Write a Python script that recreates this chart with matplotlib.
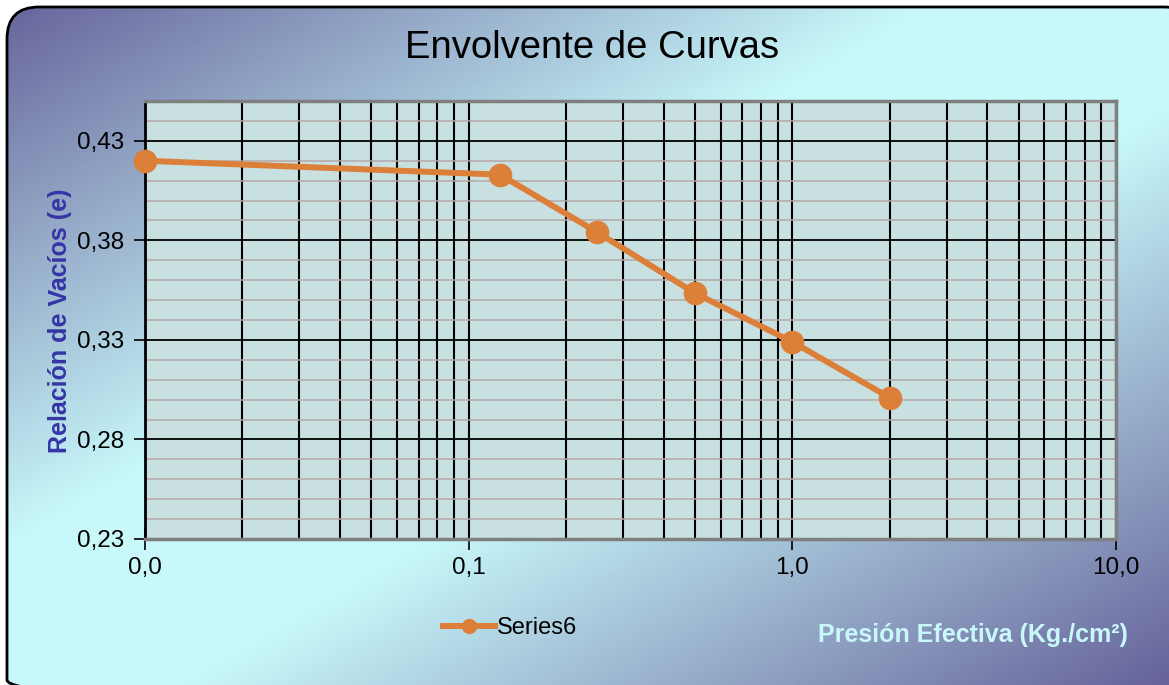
import numpy as np
import matplotlib
matplotlib.use("Agg")
import matplotlib.pyplot as plt
from matplotlib.colors import LinearSegmentedColormap
from matplotlib.patches import FancyBboxPatch
from matplotlib.lines import Line2D
from matplotlib.ticker import FixedLocator, NullFormatter

plt.rcParams['font.family'] = ['Liberation Sans', 'DejaVu Sans']

# ---- data ----
pressure = [0.01, 0.125, 0.25, 0.5, 1.0, 2.0]
void_ratio = [0.420, 0.413, 0.384, 0.3535, 0.329, 0.301]
series_name = "Series6"
y_ticks = [0.23, 0.28, 0.33, 0.38, 0.43]
y_tick_labels = ["0,23", "0,28", "0,33", "0,38", "0,43"]
x_ticks = [0.01, 0.1, 1.0, 10.0]
x_tick_labels = ["0,0", "0,1", "1,0", "10,0"]
title = "Envolvente de Curvas"
x_label = "Presión Efectiva (Kg./cm²)"
y_label = "Relación de Vacíos (e)"

W, H = 1169, 685
fig = plt.figure(figsize=(W / 100, H / 100), dpi=100)
fig.patch.set_facecolor('white')

# ---- background with gradient, rounded frame ----
bg = fig.add_axes([0, 0, 1, 1])
bg.set_axis_off()
bg.set_xlim(0, W)
bg.set_ylim(H, 0)
u = np.linspace(0, 1, 400)[None, :]
v = np.linspace(0, 1, 240)[:, None]
t = (u + v) / 2
cmap = LinearSegmentedColormap.from_list(
    "bg", [(0.0, "#66639a"), (0.40, "#c8f8fa"), (0.58, "#c8f8fa"), (1.0, "#66639a")])
im = bg.imshow(t, extent=(0, W, H, 0), cmap=cmap, aspect='auto', vmin=0, vmax=1,
               interpolation='bilinear')
frame = FancyBboxPatch((7, 7), W + 20, H + 20,
                       boxstyle="round,pad=0,rounding_size=32",
                       facecolor='none', edgecolor='black', linewidth=2.0,
                       transform=bg.transData)
bg.add_patch(frame)
im.set_clip_path(frame)

# ---- main axes ----
L, R, T, B = 145, 1116, 101, 539
ax = fig.add_axes([L / W, 1 - B / H, (R - L) / W, (B - T) / H])
ax.set_facecolor('#c9e0e1')
ax.set_xscale('log')
ax.set_xlim(0.01, 10)
ax.set_ylim(0.23, 0.45)

ax.yaxis.set_major_locator(FixedLocator(y_ticks))
ax.set_yticklabels(y_tick_labels)
ax.yaxis.set_minor_locator(FixedLocator(np.arange(0.24, 0.451, 0.01)))
ax.xaxis.set_major_locator(FixedLocator(x_ticks))
ax.set_xticklabels(x_tick_labels)
minor_x = [m * 10.0 ** e for e in (-2, -1, 0) for m in range(2, 10)]
ax.xaxis.set_minor_locator(FixedLocator(minor_x))
ax.xaxis.set_minor_formatter(NullFormatter())

ax.grid(which='minor', axis='y', color='#b5a7a8', linewidth=1.1)
ax.grid(which='major', axis='y', color='black', linewidth=1.3)
ax.grid(which='both', axis='x', color='black', linewidth=1.5)
ax.set_axisbelow(True)

ax.tick_params(axis='y', which='major', direction='out', length=8, width=1.2,
               pad=7, labelsize=17.5, colors='black')
ax.tick_params(axis='x', which='major', direction='inout', length=16, width=1.2,
               pad=5, labelsize=17.5, colors='black')
ax.tick_params(which='minor', length=0)

for s in ('top', 'right', 'bottom'):
    ax.spines[s].set_color('#7f7f7f')
    ax.spines[s].set_linewidth(2.5)
ax.spines['left'].set_color('black')
ax.spines['left'].set_linewidth(2.0)

ax.plot(pressure, void_ratio, color='#dc7f38', linewidth=4.3, marker='o',
        markersize=16, markerfacecolor='#dc7f38', markeredgecolor='#dc7f38',
        clip_on=False, zorder=5)

# ---- texts ----
fig.text(592 / W, 1 - 48 / H, title, ha='center', va='center', fontsize=27.5, color='black')
fig.text(60 / W, 1 - 321 / H, y_label, ha='center', va='center', rotation=90,
         fontsize=18, fontweight='bold', color='#3434a6')
fig.text(973 / W, 1 - 635 / H, x_label, ha='center', va='center',
         fontsize=18, fontweight='bold', color='#c8f8fa')

handle = Line2D([], [], color='#dc7f38', linewidth=4.3, marker='o', markersize=10)
fig.legend([handle], [series_name], loc='center', bbox_to_anchor=(510 / W, 1 - 628 / H),
           frameon=False, fontsize=17, handlelength=2.2, handletextpad=0.05,
           labelcolor='black')

fig.savefig("out.png", dpi=100)
